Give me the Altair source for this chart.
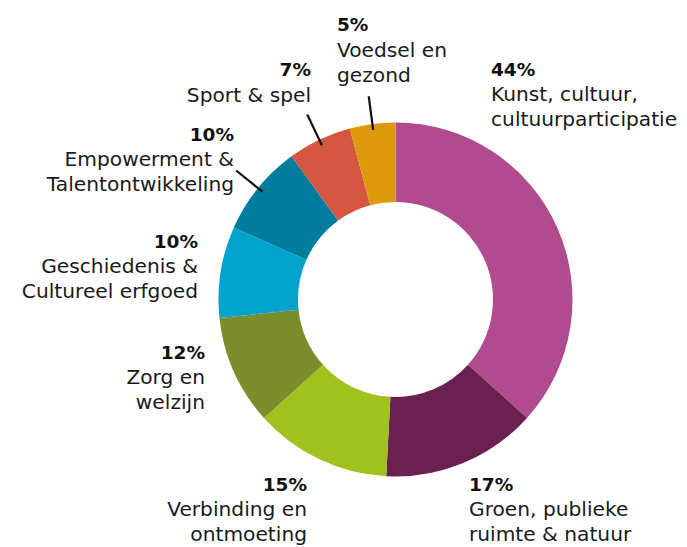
import math
import altair as alt
import pandas as pd

# ---- data ----
names = [
    "Kunst, cultuur, cultuurparticipatie",
    "Groen, publieke ruimte & natuur",
    "Verbinding en ontmoeting",
    "Zorg en welzijn",
    "Geschiedenis & Cultureel erfgoed",
    "Empowerment & Talentontwikkeling",
    "Sport & spel",
    "Voedsel en gezond",
]
values = [44, 17, 15, 12, 10, 10, 7, 5]
label_text = [
    "Kunst, cultuur,\ncultuurparticipatie",
    "Groen, publieke\nruimte & natuur",
    "Verbinding en\nontmoeting",
    "Zorg en\nwelzijn",
    "Geschiedenis &\nCultureel erfgoed",
    "Empowerment &\nTalentontwikkeling",
    "Sport & spel",
    "Voedsel en\ngezond",
]
colors = ["#B04B8F", "#6A2150", "#A0C21E", "#7A8F2C",
          "#00A3CC", "#007C9C", "#D55641", "#DB990B"]

# ---- layout ----
CX, CY = 387.5, 291.5
R_IN, R_OUT = 97.5, 177
label_x = [483, 461, 299, 197, 190, 226, 303, 329]
label_y = [67.5, 482.5, 482.5, 350.5, 239.5, 132.5, 68, 23]   # baseline of percent line
label_align = ["left", "left", "right", "right", "right", "right", "right", "left"]
has_leader = [False, False, False, False, False, True, True, True]
GAP = 25.5
LINE_H = 25
FONT = "DejaVu Sans"
FS = 20.2
FS_PCT = 18.5

total = sum(values)
cum = 0
mids = []
for v in values:
    mids.append((cum + v / 2) / total * 2 * math.pi)
    cum += v

df = pd.DataFrame({
    "name": names,
    "value": values,
    "order": list(range(len(names))),
    "pct": [f"{v}%" for v in values],
    "desc": label_text,
    "lx": label_x,
    "ly": label_y,
    "dy": [y + GAP for y in label_y],
    "align": label_align,
})

lead = pd.DataFrame({
    "x1": [CX + 171 * math.sin(m) for m, h in zip(mids, has_leader) if h],
    "y1": [CY - 171 * math.cos(m) for m, h in zip(mids, has_leader) if h],
    "x2": [CX + 205 * math.sin(m) for m, h in zip(mids, has_leader) if h],
    "y2": [CY - 205 * math.cos(m) for m, h in zip(mids, has_leader) if h],
})

base = alt.Chart(df)

arc = base.mark_arc(innerRadius=R_IN, outerRadius=R_OUT).encode(
    theta=alt.Theta("value:Q", stack=True),
    color=alt.Color("name:N", scale=alt.Scale(domain=names, range=colors), legend=None),
    order=alt.Order("order:Q"),
    x=alt.value(CX),
    y=alt.value(CY),
)

layers = [arc]
for al in ["left", "right"]:
    sub = base.transform_filter(alt.datum.align == al)
    layers.append(sub.mark_text(font=FONT, fontSize=FS_PCT, fontWeight="bold", align=al,
                                baseline="alphabetic", color="#111111").encode(
        x=alt.X("lx:Q", scale=None), y=alt.Y("ly:Q", scale=None), text="pct:N"))
    layers.append(sub.mark_text(font=FONT, fontSize=FS, align=al, baseline="alphabetic",
                                lineBreak="\n", lineHeight=LINE_H, color="#1a1a1a").encode(
        x=alt.X("lx:Q", scale=None), y=alt.Y("dy:Q", scale=None), text="desc:N"))

rules = alt.Chart(lead).mark_rule(color="#111111", strokeWidth=2.2).encode(
    x=alt.X("x1:Q", scale=None), y=alt.Y("y1:Q", scale=None),
    x2="x2:Q", y2="y2:Q")
layers.append(rules)

chart = alt.layer(*layers).properties(
    width=671, height=539, padding=0,
    autosize=alt.AutoSizeParams(type="none"),
).configure_view(stroke=None)

chart.save("out.html", embed_options={"renderer": "svg", "actions": False})
